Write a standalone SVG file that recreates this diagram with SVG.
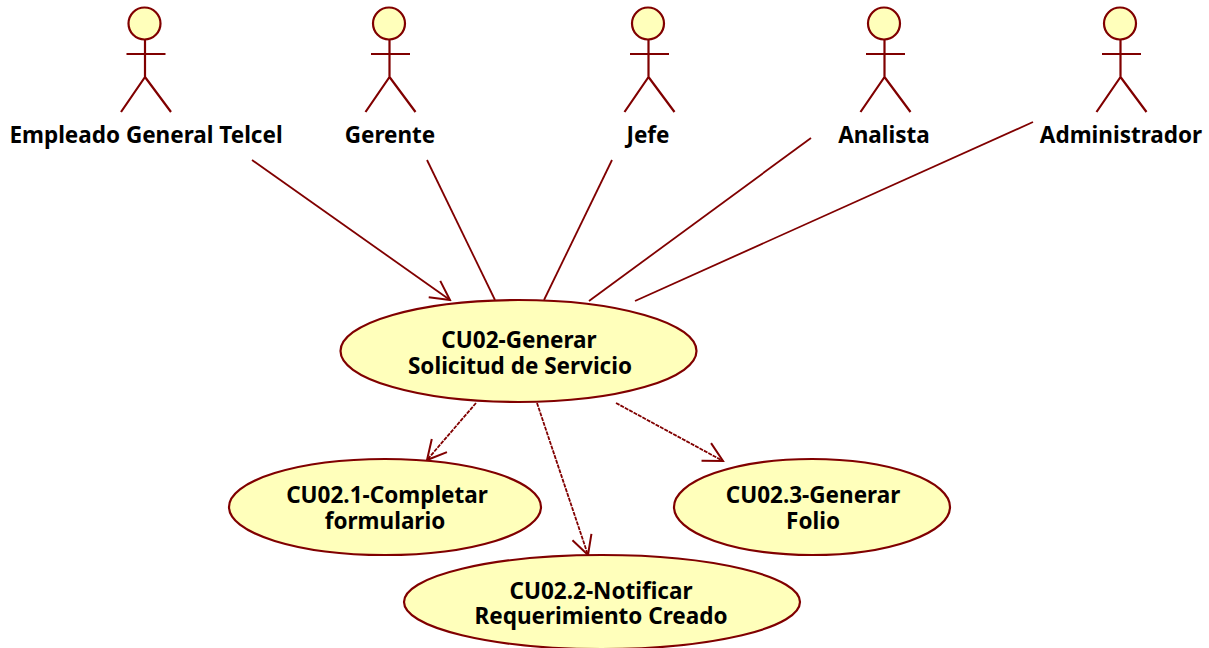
<svg xmlns="http://www.w3.org/2000/svg" width="1209" height="648" viewBox="0 0 1209 648">
<defs>
<style>
.s{fill:none;stroke:#800000;stroke-width:2.2}
.f{fill:#ffffbb;stroke:#800000;stroke-width:2.2}
.t{font-family:"Noto Sans","DejaVu Sans",sans-serif;font-weight:bold;font-size:22.500px;fill:#000;text-anchor:middle}
.c{fill:none;stroke:#800000;stroke-width:1.8}
.d{stroke-dasharray:4 1}
</style>
<g id="actor"><circle class="f" cx="0" cy="23.500" r="16"/><path class="s" d="M0.500 39V77M-18 54H21M0.500 77L-23.500 112M0.500 77L26.500 112"/></g>
<marker id="a" viewBox="-22 -12 24 24" markerWidth="24" markerHeight="24" refX="0" refY="0" markerUnits="userSpaceOnUse" orient="auto"><path d="M-19 -10L0 0L-19 10" fill="none" stroke="#800000" stroke-width="2"/></marker>
</defs>
<rect width="1209" height="648" fill="#fff"/>
<g id="connectors">
<path class="c" d="M252 160L450 300" marker-end="url(#a)"/>
<path class="c" d="M427 160L495 300"/>
<path class="c" d="M612 160L544 300"/>
<path class="c" d="M811 138L589 301"/>
<path class="c" d="M1033 122L635 301"/>
<path class="c d" d="M476 403L427 460" marker-end="url(#a)"/>
<path class="c d" d="M537 403L588 555" marker-end="url(#a)"/>
<path class="c d" d="M616 403L723 461" marker-end="url(#a)"/>
</g>
<g id="actor1"><use href="#actor" x="144.500" y="0"/></g>
<g id="actor2"><use href="#actor" x="389" y="0"/></g>
<g id="actor3"><use href="#actor" x="648" y="0"/></g>
<g id="actor4"><use href="#actor" x="884" y="0"/></g>
<g id="actor5"><use href="#actor" x="1120" y="0"/></g>
<g id="label1"><text class="t" x="146" y="143">Empleado General Telcel</text></g>
<g id="label2"><text class="t" x="390" y="143">Gerente</text></g>
<g id="label3"><text class="t" x="648" y="143">Jefe</text></g>
<g id="label4"><text class="t" x="884" y="143">Analista</text></g>
<g id="label5"><text class="t" x="1121" y="143">Administrador</text></g>
<g id="uc0"><ellipse class="f" cx="518.500" cy="351" rx="178" ry="51"/><text class="t" x="519" y="348">CU02-Generar</text><text class="t" x="520" y="374">Solicitud de Servicio</text></g>
<g id="uc1"><ellipse class="f" cx="385" cy="507" rx="156" ry="48"/><text class="t" x="387" y="503">CU02.1-Completar</text><text class="t" x="385" y="529">formulario</text></g>
<g id="uc2"><ellipse class="f" cx="602" cy="602" rx="198" ry="47"/><text class="t" x="601" y="599">CU02.2-Notificar</text><text class="t" x="601" y="624">Requerimiento Creado</text></g>
<g id="uc3"><ellipse class="f" cx="812" cy="507" rx="138" ry="48"/><text class="t" x="813" y="503">CU02.3-Generar</text><text class="t" x="813" y="529">Folio</text></g>
</svg>
